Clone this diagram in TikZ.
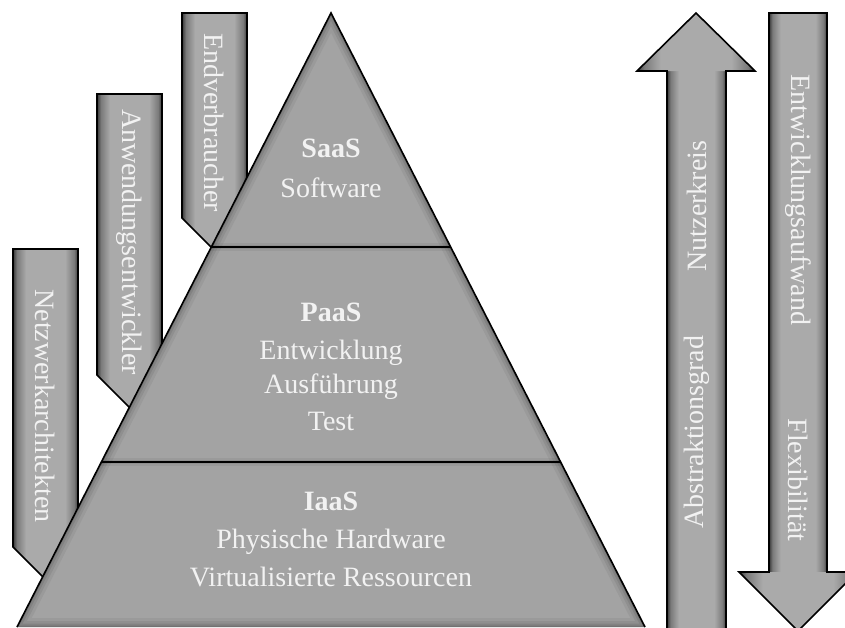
\documentclass[tikz,border=0pt]{standalone}
\usepackage{fontspec}
\setmainfont{Liberation Serif}
\usetikzlibrary{calc}
\definecolor{pyrgray}{HTML}{A3A3A3}
\definecolor{gdk}{HTML}{383838}
\definecolor{gmd}{HTML}{7A7A7A}
\definecolor{glt}{HTML}{AAAAAA}
\definecolor{txt}{HTML}{F2F2F2}
\pgfdeclarehorizontalshading{glow}{100bp}{color(0bp)=(gdk); color(25bp)=(gdk); color(28bp)=(gmd); color(35bp)=(glt); color(65bp)=(glt); color(72bp)=(gmd); color(75bp)=(gdk); color(100bp)=(gdk)}
\tikzset{
  glowfill/.style={shading=glow},
  outline/.style={draw=black, line width=1.6pt, line join=miter},
  lbl/.style={text=txt, font=\fontsize{28}{34}\selectfont, inner sep=0pt},
  pyrlbl/.style={text=txt, font=\fontsize{28}{34}\selectfont, align=center, inner sep=0pt},
}
\begin{document}
\begin{tikzpicture}[x=1pt,y=-1pt]
\useasboundingbox (0,0) rectangle (845,627);
\clip (0,0) rectangle (845,627);
% pyramid corner coordinates
\coordinate (A) at (331,13);
\coordinate (BL) at (17,627);
\coordinate (BR) at (645,627);
\coordinate (L1) at ($(A)!0.3812!(BL)$);
\coordinate (R1) at ($(A)!0.3812!(BR)$);
\coordinate (L2) at ($(A)!0.7313!(BL)$);
\coordinate (R2) at ($(A)!0.7313!(BR)$);

% banners behind the pyramid
\foreach \L/\T/\B in {182/13/218, 97/94/375, 13/249/547}{
  \path[glowfill] (\L,\T) -- (\L+65,\T) -- (\L+65,\B+60) -- (\L+60,\B+60) -- (\L,\B) -- cycle;
  \draw[outline] (\L,\T) -- (\L+65,\T) -- (\L+65,\B+60) -- (\L+60,\B+60) -- (\L,\B) -- cycle;
}
\node[lbl, rotate=-90] (endv) at (214.5,122.5) {Endverbraucher};
\node[lbl, rotate=-90] (anwe) at (129.5,242) {Anwendungsentwickler};
\node[lbl, rotate=-90] (netz) at (45.5,406) {Netzwerkarchitekten};

% pyramid
\begin{scope}
  \clip (A) -- (BL) -- (BR) -- cycle;
  \fill[pyrgray] (A) -- (BL) -- (BR) -- cycle;
  \foreach \w/\o in {18/0.05, 12/0.07, 7/0.09, 3/0.12}{
    \draw[black, opacity=\o, line width=\w pt] (A) -- (BL) -- (BR) -- cycle;
  }
  \foreach \w/\o in {8/0.05, 4/0.07}{
    \draw[black, opacity=\o, line width=\w pt] (L1) -- (R1) (L2) -- (R2);
  }
\end{scope}
\draw[outline] (BL) -- (A) -- (BR);
\draw[black, line width=2.6pt] (L1) -- (R1);
\draw[black, line width=2.6pt] (L2) -- (R2);

\node[pyrlbl] (saas) at (331,148) {\textbf{SaaS}};
\node[pyrlbl] (soft) at (331,188) {Software};
\node[pyrlbl] (paas) at (331,312) {\textbf{PaaS}};
\node[pyrlbl] (entw) at (331,353) {Entwicklung};
\node[pyrlbl] (ausf) at (331,387) {Ausführung};
\node[pyrlbl] (test) at (331,421) {Test};
\node[pyrlbl] (iaas) at (331,501) {\textbf{IaaS}};
\node[pyrlbl] (phys) at (331,542) {Physische Hardware};
\node[pyrlbl] (virt) at (331,577) {Virtualisierte Ressourcen};

% up arrow
\path[glowfill] (667,70) rectangle (726,628);
\path[glowfill] (637,71) -- (696,13) -- (755,71) -- cycle;
\draw[outline] (667,628) -- (667,71) -- (637,71) -- (696,13) -- (755,71) -- (726,71) -- (726,628);
\node[lbl, rotate=90] (nutz) at (697,206) {Nutzerkreis};
\node[lbl, rotate=90] (abst) at (697,432) {Abstraktionsgrad};

% down arrow
\path[glowfill] (769,13) rectangle (827,573);
\path[glowfill] (739,572) -- (798,631) -- (857,572) -- cycle;
\draw[outline] (769,572) -- (769,13) -- (827,13) -- (827,572) -- (857,572) -- (798,631) -- (739,572) -- cycle;
\node[lbl, rotate=-90] (entwa) at (798,200) {Entwicklungsaufwand};
\node[lbl, rotate=-90] (flex) at (798,480) {Flexibilität};
\end{tikzpicture}
\end{document}
